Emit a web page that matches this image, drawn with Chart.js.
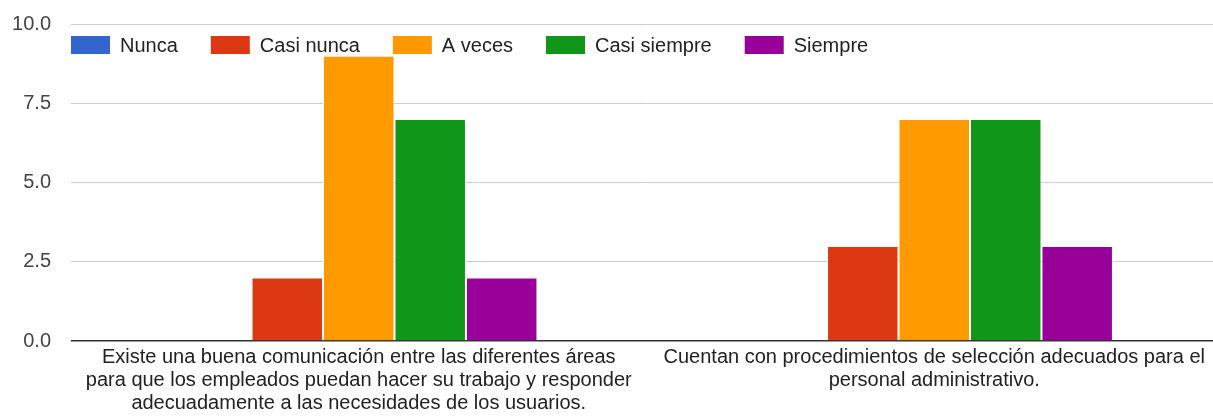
<!DOCTYPE html>
<html>
<head>
<meta charset="utf-8">
<script src="https://cdn.jsdelivr.net/npm/chart.js@4"></script>
<style>
  html, body { margin: 0; padding: 0; background: #fff; overflow: hidden; }
  #wrap { width: 1222px; height: 417px; }
</style>
</head>
<body>
<div id="wrap"><canvas id="chart"></canvas></div>
<script>
const categories = [
  ['Existe una buena comunicación entre las diferentes áreas',
   'para que los empleados puedan hacer su trabajo y responder',
   'adecuadamente a las necesidades de los usuarios.'],
  ['Cuentan con procedimientos de selección adecuados para el',
   'personal administrativo.']
]
const seriesNames = ['Nunca', 'Casi nunca', 'A veces', 'Casi siempre', 'Siempre']
const seriesColors = ['#3366cc', '#dc3912', '#ff9900', '#109618', '#990099']
const nunca = [0, 0]
const casiNunca = [2, 3]
const aVeces = [9, 7]
const casiSiempre = [7, 7]
const siempre = [2, 3]
const yTicks = [0, 2.5, 5, 7.5, 10]

const values = [nunca, casiNunca, aVeces, casiSiempre, siempre]
const font = 'Liberation Sans, Arial, sans-serif'

// legend drawn in a single row inside the plot, top left
const innerLegend = {
  id: 'innerLegend',
  beforeDatasetsDraw(chart) {
    const ctx = chart.ctx
    const area = chart.chartArea
    let x = area.left
    const y = area.top + 12
    ctx.save()
    ctx.font = '20px ' + font
    ctx.textBaseline = 'middle'
    ctx.textAlign = 'left'
    chart.data.datasets.forEach(ds => {
      ctx.fillStyle = ds.backgroundColor
      ctx.fillRect(x, y, 39, 18)
      x += 39 + 10
      ctx.fillStyle = '#222'
      ctx.fillText(ds.label, x, y + 10)
      x += ctx.measureText(ds.label).width + 33
    })
    ctx.restore()
  }
}

new Chart(document.getElementById('chart'), {
  type: 'bar',
  data: {
    labels: categories,
    datasets: seriesNames.map((name, i) => ({
      label: name,
      data: values[i],
      backgroundColor: seriesColors[i],
      borderColor: '#ffffff',
      borderWidth: 1,
      borderSkipped: 'start',
      categoryPercentage: 0.621,
      barPercentage: 1
    }))
  },
  options: {
    responsive: true,
    maintainAspectRatio: false,
    animation: false,
    layout: { padding: { top: 24, left: 12, right: 0, bottom: -3 } },
    plugins: {
      tooltip: { enabled: false },
      legend: { display: false }
    },
    scales: {
      x: {
        grid: { display: false, drawTicks: false },
        border: { display: false },
        ticks: {
          padding: 5,
          color: '#222',
          maxRotation: 0,
          autoSkip: false,
          font: { family: font, size: 20, lineHeight: 1.15 }
        },
        // long labels should not push the plot in from the sides
        afterFit: s => { s.paddingLeft = 0; s.paddingRight = 0 }
      },
      y: {
        min: 0,
        max: 10,
        afterBuildTicks: axis => { axis.ticks = yTicks.map(v => ({ value: v })) },
        afterFit: s => { s.width = 59; s.paddingTop = 0; s.paddingBottom = 0 },
        grid: {
          drawTicks: false,
          color: ctx => ctx.tick && ctx.tick.value === 0 ? '#333' : '#ccc',
          lineWidth: ctx => ctx.tick && ctx.tick.value === 0 ? 1.5 : 1
        },
        border: { display: false },
        ticks: {
          padding: 20,
          color: '#444',
          font: { family: font, size: 20 },
          callback: v => v.toFixed(1)
        }
      }
    }
  },
  plugins: [innerLegend]
})
</script>
</body>
</html>
